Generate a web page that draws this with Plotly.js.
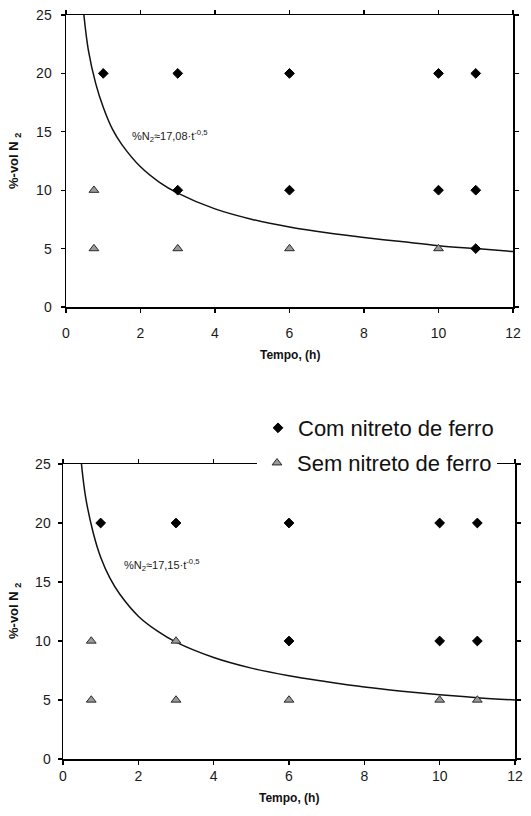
<!DOCTYPE html>
<html>
<head>
<meta charset="utf-8">
<script src="https://cdn.plot.ly/plotly-3.0.1.min.js"></script>
<style>html,body{margin:0;padding:0;background:#fff}</style>
</head>
<body>
<div id="chart" style="width:531px;height:816px"></div>
<script>
// ---- data ----
const xTicks = [0, 2, 4, 6, 8, 10, 12];
const yTicks = [0, 5, 10, 15, 20, 25];

// Top panel
const xCom1 = [1, 3, 6, 10, 11, 3, 6, 10, 11, 11];
const yCom1 = [20, 20, 20, 20, 20, 10, 10, 10, 10, 5];
const xSem1 = [0.75, 0.75, 3, 6, 10];
const ySem1 = [10, 5, 5, 5, 5];
const fitT1 = [0.48, 0.6, 0.8, 1.0, 1.25, 1.5, 2, 2.5, 3, 4, 5, 6, 7, 8, 9, 10, 11, 12];
const fitY1 = [25, 22.0, 19.1, 17.1, 15.2, 13.9, 12.0, 10.7, 9.75, 8.4, 7.5, 6.85, 6.35, 5.95, 5.6, 5.25, 5.0, 4.75];

// Bottom panel
const xCom2 = [1, 3, 6, 10, 11, 6, 10, 11];
const yCom2 = [20, 20, 20, 20, 20, 10, 10, 10];
const xSem2 = [0.75, 3, 0.75, 3, 6, 10, 11];
const ySem2 = [10, 10, 5, 5, 5, 5, 5];
const fitT2 = [0.49, 0.6, 0.8, 1.0, 1.25, 1.5, 2, 2.5, 3, 4, 5, 6, 7, 8, 9, 10, 11, 12];
const fitY2 = [25, 22.2, 19.2, 17.1, 15.3, 14.0, 12.1, 10.85, 9.9, 8.6, 7.7, 7.05, 6.55, 6.1, 5.75, 5.45, 5.2, 5.0];

const seriesNames = ['Com nitreto de ferro', 'Sem nitreto de ferro'];
const fitLabels = ['%N<sub>2</sub>≈17,08·t<sup>-0,5</sup>', '%N<sub>2</sub>≈17,15·t<sup>-0,5</sup>'];
const xTitle = 'Tempo, (h)';
const yTitle = '%-vol N <sub>2</sub>';

// ---- styling ----
const FONT = 'Liberation Sans, Arial, sans-serif';
const comMarker = {symbol: 'diamond', size: 7.5, color: '#000', line: {color: '#000', width: 1}};
const semMarker = {symbol: 'triangle-up', size: 8.5, color: '#9a9a9a', line: {color: '#2a2a2a', width: 1}};
const fitLine = {color: '#111', width: 1.5, shape: 'spline'};

const traces = [
  {x: fitT1, y: fitY1, mode: 'lines', line: fitLine, xaxis: 'x', yaxis: 'y', showlegend: false, hoverinfo: 'skip'},
  {x: xSem1, y: ySem1, mode: 'markers', marker: semMarker, xaxis: 'x', yaxis: 'y', showlegend: false, name: seriesNames[1]},
  {x: xCom1, y: yCom1, mode: 'markers', marker: comMarker, xaxis: 'x', yaxis: 'y', showlegend: false, name: seriesNames[0]},

  {x: fitT2, y: fitY2, mode: 'lines', line: fitLine, xaxis: 'x2', yaxis: 'y2', showlegend: false, hoverinfo: 'skip'},
  {x: xSem2, y: ySem2, mode: 'markers', marker: semMarker, xaxis: 'x2', yaxis: 'y2', name: seriesNames[1], legend: 'legend2'},
  {x: xCom2, y: yCom2, mode: 'markers', marker: comMarker, xaxis: 'x2', yaxis: 'y2', name: seriesNames[0], legend: 'legend'}
];

const tickFont = {family: FONT, size: 14, color: '#1a1a1a'};

function mainAxis(domain, anchor, standoff, ticks) {
  return {domain: domain, anchor: anchor, range: [ticks[0], ticks[ticks.length - 1]],
    tickmode: 'array', tickvals: ticks,
    ticks: 'outside', ticklen: 4, tickwidth: 1.2, tickcolor: '#000', showline: true, linecolor: '#000',
    linewidth: 1.5, mirror: 'ticks', showgrid: false, zeroline: false, tickfont: tickFont,
    ticklabelstandoff: standoff, fixedrange: true};
}

const topX = [66 / 531, 513 / 531], topY = [(816 - 307) / 816, (816 - 15) / 816];
const botX = [63 / 531, 515 / 531], botY = [(816 - 759) / 816, (816 - 464) / 816];

const legendBase = {bgcolor: '#fff', borderwidth: 0, font: {family: FONT, size: 22, color: '#111'},
  xref: 'paper', yref: 'paper', xanchor: 'left', yanchor: 'middle'};

const layout = {
  width: 531, height: 816,
  margin: {l: 0, r: 0, t: 0, b: 0},
  paper_bgcolor: '#fff', plot_bgcolor: '#fff',
  showlegend: true,
  font: {family: FONT, color: '#111'},
  xaxis: mainAxis(topX, 'y', 9, xTicks),
  yaxis: mainAxis(topY, 'x', 6, yTicks),
  xaxis2: mainAxis(botX, 'y2', 0, xTicks),
  yaxis2: mainAxis(botY, 'x2', 4, yTicks),
  legend: Object.assign({}, legendBase, {x: 258 / 531, y: (816 - 428) / 816}),
  legend2: Object.assign({}, legendBase, {x: 257 / 531, y: (816 - 463) / 816}),
  annotations: [
    {xref: 'x', yref: 'y', x: 1.72, y: 14.6, xanchor: 'left', yanchor: 'middle', showarrow: false,
     text: fitLabels[0], font: {family: FONT, size: 11, color: '#1a1a1a'}},
    {xref: 'x2', yref: 'y2', x: 1.56, y: 16.4, xanchor: 'left', yanchor: 'middle', showarrow: false,
     text: fitLabels[1], font: {family: FONT, size: 11, color: '#1a1a1a'}},
    {xref: 'paper', yref: 'paper', x: 289.5 / 531, y: (816 - 355) / 816, xanchor: 'center', yanchor: 'middle',
     showarrow: false, text: '<b>' + xTitle + '</b>', font: {family: FONT, size: 12, color: '#111'}},
    {xref: 'paper', yref: 'paper', x: 289 / 531, y: (816 - 798) / 816, xanchor: 'center', yanchor: 'middle',
     showarrow: false, text: '<b>' + xTitle + '</b>', font: {family: FONT, size: 12, color: '#111'}},
    {xref: 'paper', yref: 'paper', x: 15 / 531, y: (816 - 161) / 816, xanchor: 'center', yanchor: 'middle',
     showarrow: false, textangle: -90, text: '<b>' + yTitle + '</b>', font: {family: FONT, size: 13, color: '#111'}},
    {xref: 'paper', yref: 'paper', x: 14 / 531, y: (816 - 611) / 816, xanchor: 'center', yanchor: 'middle',
     showarrow: false, textangle: -90, text: '<b>' + yTitle + '</b>', font: {family: FONT, size: 13, color: '#111'}}
  ]
};

Plotly.newPlot('chart', traces, layout, {displayModeBar: false, staticPlot: true});
</script>
</body>
</html>
